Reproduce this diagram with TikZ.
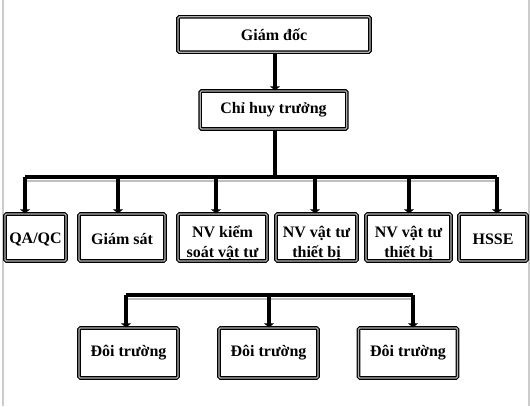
\documentclass[tikz,border=0pt,12pt]{standalone}
\usepackage{fontspec}
\setmainfont{Liberation Serif}
\usepackage{tikz}
\usetikzlibrary{arrows.meta, positioning, calc}
\newcommand{\lowered}[2]{\raisebox{-#1}[\height][\depth]{#2}}
\newcommand{\twoline}[2]{\lowered{4.5pt}{\begin{tabular}{@{}c@{}}#1\\#2\end{tabular}}}

\begin{document}
\begin{tikzpicture}[
    x=0.75pt, y=-0.75pt,
    box/.style={draw, double=gray!60, line width=0.9pt, double distance=0.9pt, rounded corners=1pt,
        fill=white, align=center, font=\bfseries, inner sep=1pt},
    bus/.style={line width=2.4pt},
    arr/.style={line width=2.6pt, -{Triangle[length=3pt, width=7.5pt]}},
    >=Stealth
]
    \useasboundingbox (0,0) rectangle (530,406);
    % Page edges
    \draw[gray!40, line width=0.8pt] (3,0) -- (3,406);
    \draw[gray!40, line width=0.8pt] (529,0) -- (529,406);

    % Top
    \node[box, minimum width=144pt, minimum height=26.5pt] (gd) at (274,34.5) {Giám đốc};
    \node[box, minimum width=110pt, minimum height=28.5pt] (chh) at (273.5,110) {Chỉ huy trưởng};

    % Departments
    \node[box, minimum width=45.75pt, minimum height=35.25pt] (qa) at (35.5,237.5) {\lowered{1.5pt}{QA/QC}};
    \node[box, minimum width=64.5pt, minimum height=35.25pt] (gs) at (122,237.5) {\lowered{1.5pt}{Giám sát}};
    \node[box, minimum width=66.75pt, minimum height=35.25pt] (ks) at (222.5,237.5) {\twoline{NV kiểm}{soát vật tư}};
    \node[box, minimum width=60.75pt, minimum height=35.25pt] (vt1) at (316.5,237.5) {\twoline{NV vật tư}{thiết bị}};
    \node[box, minimum width=63.75pt, minimum height=35.25pt] (vt2) at (408.5,237.5) {\twoline{NV vật tư}{thiết bị}};
    \node[box, minimum width=51pt, minimum height=35.25pt] (hsse) at (493,237.5) {\lowered{1.5pt}{HSSE}};

    % Teams
    \node[box, minimum width=74.25pt, minimum height=37.5pt] (dt1) at (128.5,353) {Đôi trường};
    \node[box, minimum width=74.25pt, minimum height=37.5pt] (dt2) at (268.5,353) {Đôi trường};
    \node[box, minimum width=74.25pt, minimum height=37.5pt] (dt3) at (408,353) {Đôi trường};

    % Bus points
    \coordinate (top) at (275,177);
    \coordinate (b1) at (25,177);
    \coordinate (b2) at (118,177);
    \coordinate (b3) at (216,177);
    \coordinate (b4) at (315,177);
    \coordinate (b5) at (409,177);
    \coordinate (b6) at (497,177);
    \coordinate (c1) at (126,295);
    \coordinate (c2) at (269,295);
    \coordinate (c3) at (413,295);

    % Connections
    \draw[arr] (gd.south -| top) -- (chh.north -| top);
    \draw[bus] (chh.south -| top) -- (top);
    \draw[gray!50, line width=1.5pt] ([yshift=-3pt]b1) -- ([yshift=-3pt]b6);
    \draw[bus] (b1) -- (b6);
    \foreach \b/\n in {b1/qa, b2/gs, b3/ks, b4/vt1, b5/vt2, b6/hsse}
        \draw[arr] (\b) -- (\b |- \n.north);

    \draw[gray!50, line width=1.5pt] ([yshift=-3pt]c1) -- ([yshift=-3pt]c3);
    \draw[bus] (c1) -- (c3);
    \foreach \c/\n in {c1/dt1, c2/dt2, c3/dt3}
        \draw[arr] (\c) -- (\c |- \n.north);
\end{tikzpicture}
\end{document}
